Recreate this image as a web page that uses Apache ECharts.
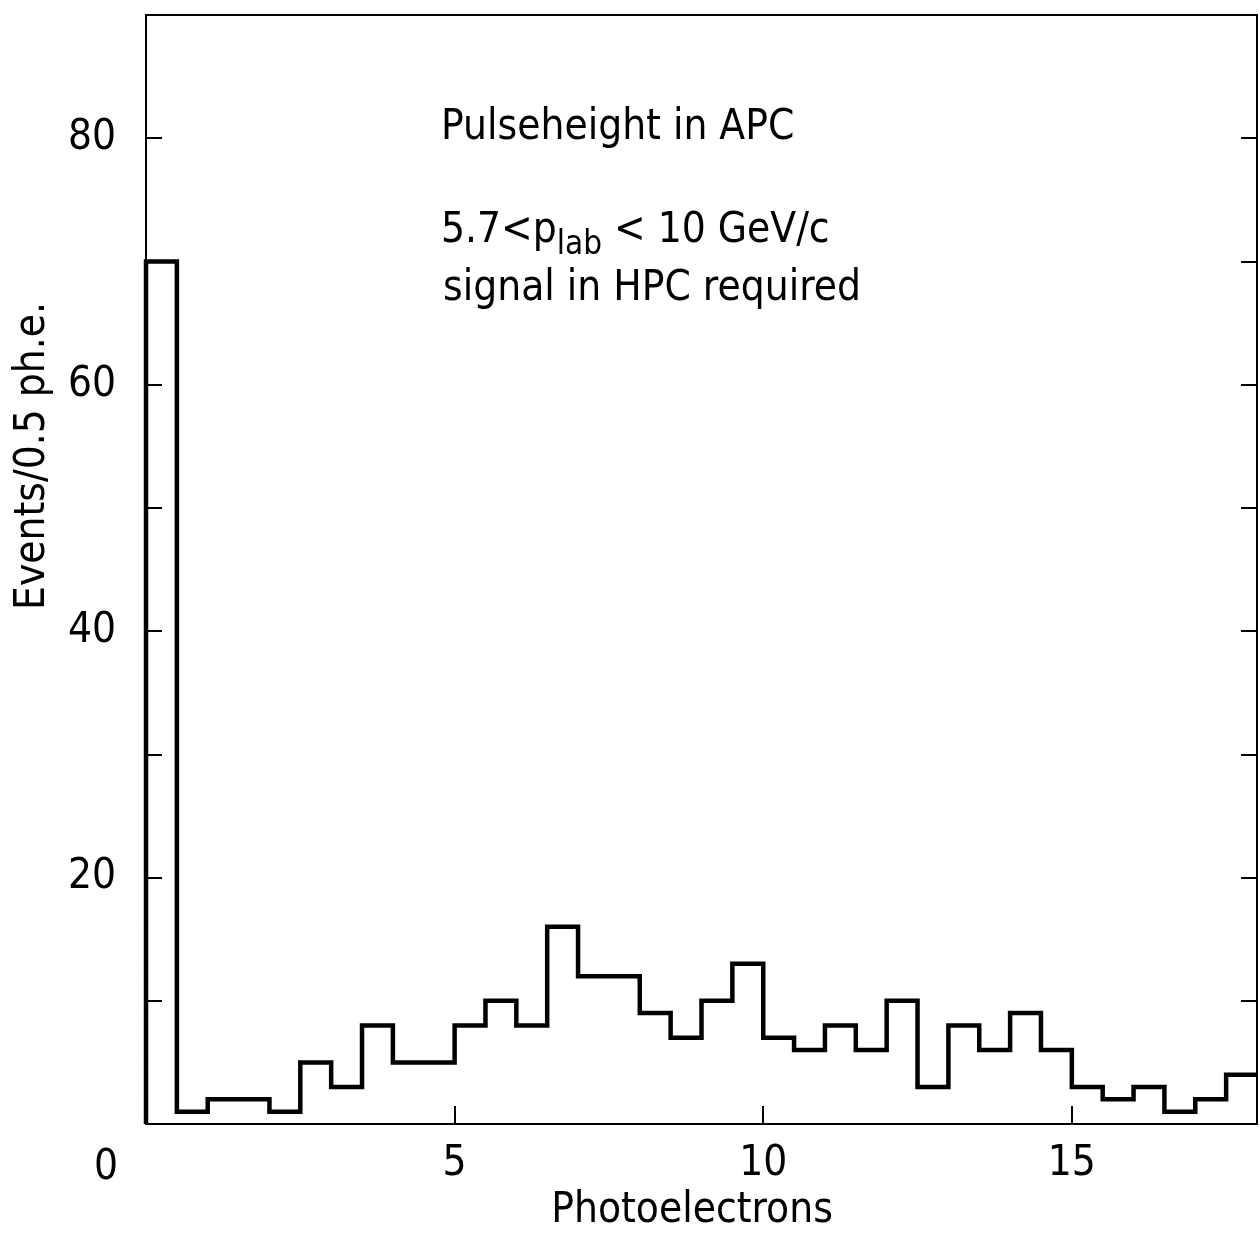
<!DOCTYPE html>
<html>
<head>
<meta charset="utf-8">
<script src="https://cdn.jsdelivr.net/npm/echarts@6/dist/echarts.min.js"></script>
<style>
html,body{margin:0;padding:0;background:#fff;}
#chart{width:1260px;height:1238px;}
</style>
</head>
<body>
<div id="chart"></div>
<script>
// ---- data ----
const binStart = 0;
const binWidth = 0.5;            // ph.e. per bin
const counts = [70, 1, 2, 2, 1, 5, 3, 8, 5, 5,
                8, 10, 8, 16, 12, 12, 9, 7, 10, 13,
                7, 6, 8, 6, 10, 3, 8, 6, 9, 6,
                3, 2, 3, 1, 2, 4];
const xTickLabels = [5, 10, 15];
const yTickLabels = [20, 40, 60, 80];
const xName = 'Photoelectrons';
const yName = 'Events/0.5 ph.e.';
const notes = ['Pulseheight in APC', '5.7<p{sub|lab} < 10 GeV/c', 'signal in HPC required'];

const F = "'DejaVu Sans Condensed','Liberation Sans Narrow','DejaVu Sans',sans-serif";
const FS = 42;

// step outline built from the bin edges
const xMax = binStart + counts.length * binWidth;
const stepData = [[binStart, 0]]
  .concat(counts.map((c, i) => [binStart + i * binWidth, c]))
  .concat([[xMax, counts[counts.length - 1]]]);

const chart = echarts.init(document.getElementById('chart'), null, {renderer: 'canvas'});
const txt = {color: '#000', fontFamily: F, fontSize: FS};
const line2 = {show: true, onZero: false, lineStyle: {color: '#000', width: 2}};
const option = {
  animation: false,
  backgroundColor: '#fff',
  grid: {left: 146, right: 3, top: 15, bottom: 114, show: true, borderColor: '#000', borderWidth: 2,
         containLabel: false, outerBoundsMode: 'none'},
  xAxis: [{
    type: 'value', min: binStart, max: xMax, interval: 5, position: 'bottom',
    axisLine: line2,
    axisTick: {show: true, inside: true, length: 18, lineStyle: {color: '#000', width: 2}},
    splitLine: {show: false},
    axisLabel: Object.assign({margin: 19, formatter: v => xTickLabels.includes(v) ? String(v) : ''}, txt)
  }, {
    type: 'value', min: binStart, max: xMax, position: 'top',
    axisLine: line2,
    axisTick: {show: false}, axisLabel: {show: false}, splitLine: {show: false}
  }],
  yAxis: [{
    type: 'value', min: 0, max: 90, interval: 10, position: 'left',
    axisLine: line2,
    axisTick: {show: true, inside: true, length: 16, lineStyle: {color: '#000', width: 2}},
    splitLine: {show: false},
    axisLabel: Object.assign({margin: 30, formatter: v => yTickLabels.includes(v) ? String(v) : ''}, txt)
  }, {
    type: 'value', min: 0, max: 90, interval: 10, position: 'right',
    axisLine: line2,
    axisTick: {show: true, inside: true, length: 16, lineStyle: {color: '#000', width: 2}},
    splitLine: {show: false}, axisLabel: {show: false}
  }],
  series: [{
    type: 'line', xAxisIndex: 0, yAxisIndex: 0, step: 'end',
    data: stepData, symbol: 'none', z: 5,
    lineStyle: {color: '#000', width: 4.5, join: 'miter'}
  }],
  graphic: [
    {type: 'text', left: 441, top: 107, style: {text: notes[0], fill: '#000', font: FS + 'px ' + F}},
    {type: 'text', left: 441, top: 210, style: {text: notes[1], fill: '#000', font: FS + 'px ' + F,
      rich: {sub: {fontFamily: F, fontSize: 33, fill: '#000', padding: [28, 0, 0, 0]}}}},
    {type: 'text', left: 443, top: 268, style: {text: notes[2], fill: '#000', font: FS + 'px ' + F}},
    {type: 'text', x: 692, y: 1211,
      style: {text: xName, fill: '#000', font: FS + 'px ' + F, align: 'center', verticalAlign: 'middle'}},
    {type: 'text', x: 33, y: 456, rotation: Math.PI / 2,
      style: {text: yName, fill: '#000', font: FS + 'px ' + F, align: 'center', verticalAlign: 'middle'}},
    {type: 'text', x: 106, y: 1168, style: {text: '0', fill: '#000', font: FS + 'px ' + F, align: 'center', verticalAlign: 'middle'}}
  ]
};
chart.setOption(option);
</script>
</body>
</html>
